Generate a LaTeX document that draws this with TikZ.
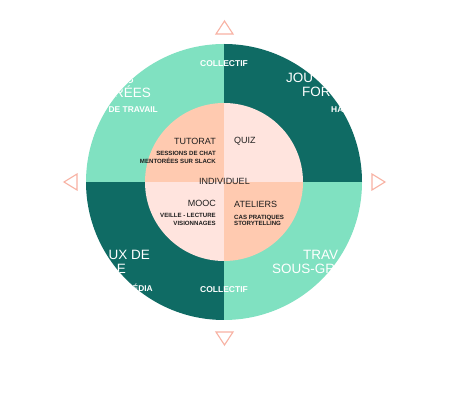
\documentclass[tikz,border=0pt]{standalone}
\usepackage{fontspec}
\setmainfont{Liberation Sans}
\definecolor{mint}{HTML}{80E1C1}
\definecolor{deepteal}{HTML}{0F6B64}
\definecolor{peach}{HTML}{FFCAB0}
\definecolor{blush}{HTML}{FFE4DE}
\definecolor{ink}{HTML}{1E1E1E}
\definecolor{salmon}{HTML}{F8B2A3}
\begin{document}
\begin{tikzpicture}[x=1pt,y=-1pt,
  bigw/.style={text=white, font=\fontsize{13.5}{14}\selectfont, inner sep=0pt},
  smallw/.style={text=white, font=\bfseries\fontsize{8.4}{9}\selectfont, inner sep=0pt},
  coll/.style={text=white, font=\bfseries\fontsize{8.5}{9}\selectfont, inner sep=0pt},
  ititle/.style={text=ink, font=\fontsize{9}{10}\selectfont, inner sep=0pt},
  isub/.style={text=ink, font=\bfseries\fontsize{6.1}{7}\selectfont, inner sep=0pt},
  tri/.style={draw=salmon, line width=1.1pt, line join=miter}]
\useasboundingbox (0,0) rectangle (450,411);
\fill[white] (0,0) rectangle (450,411);
\coordinate (c) at (224,182);
% outer ring
\begin{scope}
  \clip (c) circle (138pt);
  \fill[mint] (80,40) rectangle (224,182);
  \fill[deepteal] (224,40) rectangle (370,182);
  \fill[deepteal] (80,182) rectangle (224,325);
  \fill[mint] (224,182) rectangle (370,325);
  % outer labels
  \node[coll, anchor=base] (coltop) at (224,66.4) {COLLECTIF};
  \node[coll, anchor=base] (colbot) at (224,293) {COLLECTIF};
  \node[bigw, anchor=base west] (jou) at (286,82.7) {JOU};
  \node[bigw, anchor=base west] (for) at (302,96.7) {FOR};
  \node[smallw, anchor=base west] (ha) at (331,112.7) {HA};
  \node[bigw, anchor=base east] (tls) at (134,84) {S};
  \node[bigw, anchor=base east] (rees) at (151,98) {RÉES};
  \node[smallw, anchor=base east] (detr) at (158,113) {DE TRAVAIL};
  \node[bigw, anchor=base east] (uxde) at (150,260) {UX DE};
  \node[bigw, anchor=base east] (ble) at (126,274) {E};
  \node[smallw, anchor=base east] (edia) at (153,292) {ÉDIA};
  \node[bigw, anchor=base west] (trav) at (303,260) {TRAV};
  \node[bigw, anchor=base west] (sous) at (272,274) {SOUS-GR};
\end{scope}
% inner disc
\begin{scope}
  \clip (c) circle (79pt);
  \fill[peach] (140,100) rectangle (224,182);
  \fill[blush] (224,100) rectangle (310,182);
  \fill[blush] (140,182) rectangle (224,265);
  \fill[peach] (224,182) rectangle (310,265);
\end{scope}
% inner labels
\node[ititle, anchor=base east] (tut) at (216,145) {TUTORAT};
\node[isub, anchor=base east] (tut1) at (216,155.5) {SESSIONS DE CHAT};
\node[isub, anchor=base east] (tut2) at (216,163.2) {MENTORÉES SUR SLACK};
\node[ititle, anchor=base west] (quiz) at (234,144) {QUIZ};
\node[ititle, anchor=base] (indiv) at (224.5,185) {INDIVIDUEL};
\node[ititle, anchor=base east] (mooc) at (216,207) {MOOC};
\node[isub, anchor=base east] (mooc1) at (216,218) {VEILLE - LECTURE};
\node[isub, anchor=base east] (mooc2) at (216,225.2) {VISIONNAGES};
\node[ititle, anchor=base west] (atel) at (234,207.5) {ATELIERS};
\node[isub, anchor=base west] (atel1) at (234,219.2) {CAS PRATIQUES};
\node[isub, anchor=base west] (atel2) at (234,226) {STORYTELLING};
% triangles
\draw[tri] (216,34) -- (224.5,21) -- (233,34) -- cycle;
\draw[tri] (216,332) -- (233,332) -- (224.5,345) -- cycle;
\draw[tri] (77,174) -- (64,182) -- (77,190) -- cycle;
\draw[tri] (372,174) -- (385,182) -- (372,190) -- cycle;
\end{tikzpicture}
\end{document}
